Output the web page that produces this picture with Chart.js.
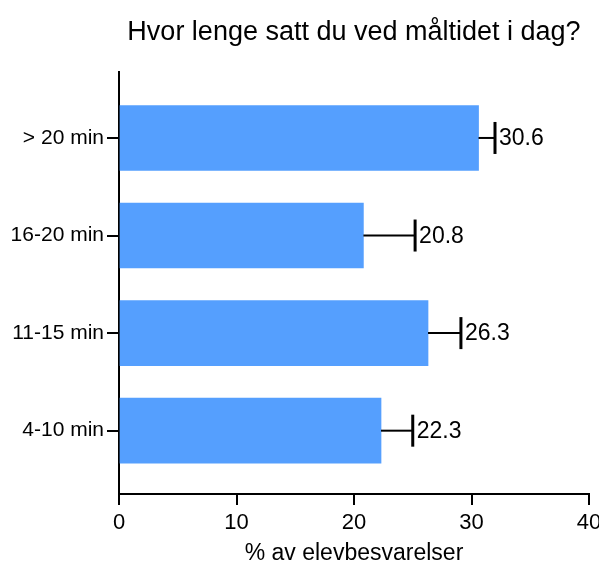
<!DOCTYPE html>
<html>
<head>
<meta charset="utf-8">
<script src="https://cdn.jsdelivr.net/npm/chart.js@4"></script>
<style>
  body { margin: 0; background: #fff; }
</style>
</head>
<body>
<canvas id="chart" width="599" height="567"></canvas>
<script>
// data
const categories = ["> 20 min", "16-20 min", "11-15 min", "4-10 min"];
const values = [30.6, 20.8, 26.3, 22.3];
const errors = [1.4, 4.4, 2.8, 2.7];
const xTicks = [0, 10, 20, 30, 40];

Chart.defaults.font.family = "'Liberation Sans', Arial, sans-serif";
Chart.defaults.color = "#000";

// error bars + value labels
const errorBars = {
    id: "errorBars",
    afterDatasetsDraw(chart) {
        const ctx = chart.ctx;
        const xs = chart.scales.x;
        const ys = chart.scales.y;
        ctx.save();
        ctx.strokeStyle = "#000";
        for (let i = 0; i < values.length; i++) {
            let y = ys.getPixelForValue(i);
            let x0 = xs.getPixelForValue(values[i]);
            let x1 = xs.getPixelForValue(values[i] + errors[i]);
            ctx.lineWidth = 2;
            ctx.beginPath();
            ctx.moveTo(x0, y);
            ctx.lineTo(x1, y);
            ctx.stroke();
            ctx.lineWidth = 3;
            ctx.beginPath();
            ctx.moveTo(x1, y - 16);
            ctx.lineTo(x1, y + 16);
            ctx.stroke();

            ctx.fillStyle = "#000";
            ctx.font = "23px 'Liberation Sans', Arial, sans-serif";
            ctx.textAlign = "left";
            ctx.textBaseline = "middle";
            ctx.fillText(values[i].toFixed(1), x1 + 4, y + 1);
        }
        ctx.restore();
    }
};

new Chart(document.getElementById("chart"), {
    type: "bar",
    data: {
        datasets: [{
            data: values.map((v, i) => ({ x: v, y: i })),
            backgroundColor: "#559ffe",
            borderWidth: 0,
            barThickness: 65
        }]
    },
    options: {
        indexAxis: "y",
        responsive: false,
        animation: false,
        layout: {
            padding: { left: 0, right: 10, top: 0, bottom: 0 }
        },
        plugins: {
            legend: { display: false },
            tooltip: { enabled: false },
            title: {
                display: true,
                text: "Hvor lenge satt du ved måltidet i dag?",
                fullSize: false,
                color: "#000",
                font: { size: 27, weight: "normal" },
                padding: { top: 16, bottom: 23.6 }
            }
        },
        scales: {
            x: {
                type: "linear",
                min: 0,
                max: 40,
                afterBuildTicks: (axis) => {
                    axis.ticks = xTicks.map(v => ({ value: v }));
                },
                afterFit: (axis) => {
                    axis.height = 73;
                    axis.paddingLeft = 0;
                    axis.paddingRight = 0;
                },
                ticks: {
                    color: "#000",
                    font: { size: 22 },
                    padding: 5,
                    maxRotation: 0
                },
                grid: {
                    drawOnChartArea: false,
                    color: "#000",
                    lineWidth: 2,
                    tickLength: 11
                },
                border: { color: "#000", width: 2 },
                title: {
                    display: true,
                    text: "% av elevbesvarelser",
                    color: "#000",
                    font: { size: 23 },
                    padding: 0
                }
            },
            y: {
                type: "linear",
                reverse: true,
                offset: false,
                min: -0.676,
                max: 3.649,
                afterBuildTicks: (axis) => {
                    axis.ticks = categories.map((c, i) => ({ value: i }));
                },
                afterFit: (axis) => {
                    axis.width = 119;
                    axis.paddingTop = 0;
                    axis.paddingBottom = 0;
                },
                ticks: {
                    color: "#000",
                    font: { size: 21 },
                    padding: 3,
                    callback: (v) => categories[v]
                },
                grid: {
                    offset: false,
                    drawOnChartArea: false,
                    color: "#000",
                    lineWidth: 2,
                    tickLength: 12
                },
                border: { color: "#000", width: 2 }
            }
        }
    },
    plugins: [errorBars]
});
</script>
</body>
</html>
